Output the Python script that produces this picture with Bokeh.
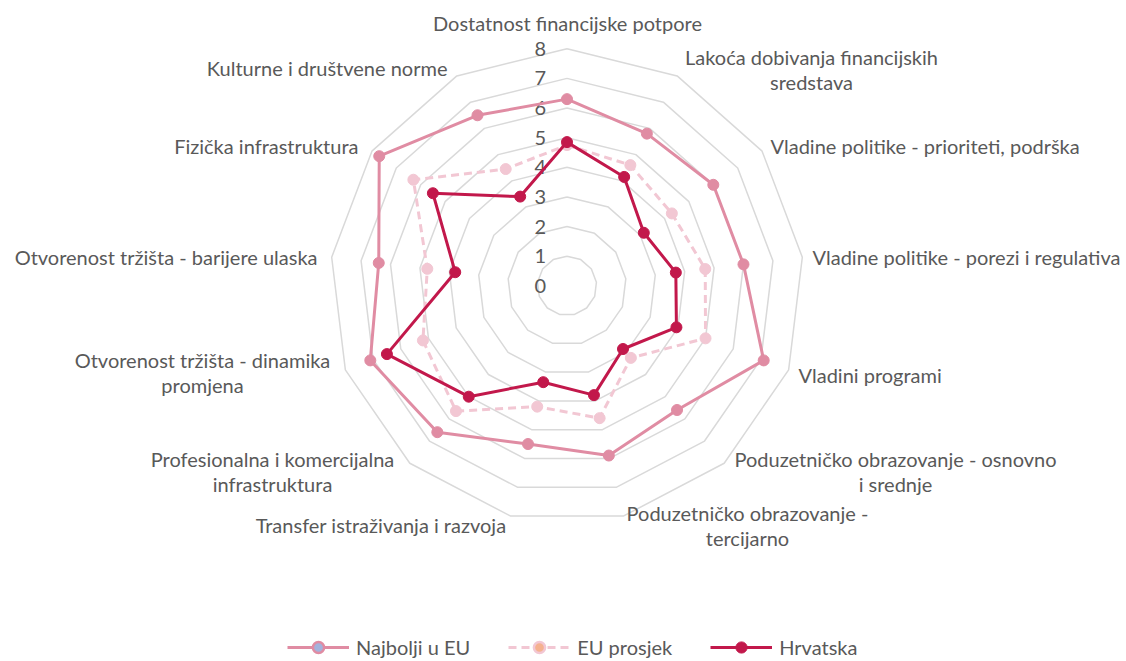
import math
from bokeh.plotting import figure
from bokeh.models import Range1d, ColumnDataSource, Legend, LegendItem
from bokeh.core.properties import value
from bokeh.embed import file_html
from bokeh.resources import INLINE

# ---------------- data ----------------
categories = [
    "Dostatnost financijske potpore",
    "Lakoća dobivanja financijskih sredstava",
    "Vladine politike - prioriteti, podrška",
    "Vladine politike - porezi i regulativa",
    "Vladini programi",
    "Poduzetničko obrazovanje - osnovno i srednje",
    "Poduzetničko obrazovanje - tercijarno",
    "Transfer istraživanja i razvoja",
    "Profesionalna i komercijalna infrastruktura",
    "Otvorenost tržišta - dinamika promjena",
    "Otvorenost tržišta - barijere ulaska",
    "Fizička infrastruktura",
    "Kulturne i društvene norme",
]
najbolji_u_eu = [6.3, 5.8, 6.0, 6.0, 7.1, 5.6, 5.9, 5.5, 6.6, 7.1, 6.4, 7.7, 6.5]
eu_prosjek = [4.75, 4.6, 4.3, 4.7, 5.0, 3.25, 4.6, 4.2, 5.65, 5.2, 4.75, 6.3, 4.45]
hrvatska = [4.85, 4.15, 3.15, 3.7, 3.95, 2.85, 3.8, 3.35, 5.0, 6.5, 3.8, 5.5, 3.4]
radial_ticks = [0, 1, 2, 3, 4, 5, 6, 7, 8]
series_names = ["Najbolji u EU", "EU prosjek", "Hrvatska"]

# ---------------- layout ----------------
W, H = 1124, 658
CX, CY = 566.5, 285.3      # page px of centre
S = 29.63                  # px per unit
PAGE = 0

TEXT = "#595959"
GRID = "#D9D9D9"
FONT = "Lato"
C_BEST = "#E08CA3"
C_EU = "#F2C7D3"
C_HR = "#C2184B"

p = figure(width=W, height=H, output_backend="svg", toolbar_location=None,
           x_range=Range1d((PAGE - CX) / S, (PAGE + W - CX) / S),
           y_range=Range1d((CY - (PAGE + H)) / S, (CY - PAGE) / S),
           min_border=0, min_border_left=0, min_border_right=0,
           min_border_top=0, min_border_bottom=0)
p.axis.visible = False
p.grid.visible = False
p.outline_line_color = None
p.background_fill_color = "white"
p.border_fill_color = "white"

n = len(categories)
angles = [2 * math.pi * k / n for k in range(n)]


def polar(vals):
    xs = [r * math.sin(a) for r, a in zip(vals, angles)]
    ys = [r * math.cos(a) for r, a in zip(vals, angles)]
    return xs, ys


# grid rings
ring_xs, ring_ys = [], []
for t in radial_ticks[1:]:
    xs, ys = polar([t] * n)
    ring_xs.append(xs + xs[:1])
    ring_ys.append(ys + ys[:1])
p.multi_line(ring_xs, ring_ys, line_color=GRID, line_width=1.5)

# radial tick labels
p.text(x=[0] * len(radial_ticks), y=radial_ticks, text=[str(t) for t in radial_ticks],
       x_offset=-21, text_align="right", text_baseline="middle",
       text_font=value(FONT), text_font_size="20px", text_color=TEXT)


def series(vals, color, dash, fill):
    xs, ys = polar(vals)
    ln = p.line(xs + xs[:1], ys + ys[:1], line_color=color, line_width=3,
                line_dash=dash, line_join="round")
    sc = p.scatter(xs, ys, size=11, fill_color=fill, line_color=color, line_width=1)
    return ln, sc


l1, s1 = series(najbolji_u_eu, C_BEST, "solid", C_BEST)
l2, s2 = series(eu_prosjek, C_EU, "8 5", C_EU)
l3, s3 = series(hrvatska, C_HR, "solid", C_HR)

# legend-only markers (as drawn in the reference legend); NaN point -> nothing on plot
nan_src = lambda: ColumnDataSource(dict(x=[float("nan")], y=[float("nan")]))
m1 = p.scatter("x", "y", source=nan_src(), fill_color="#A3B2DC", line_color=C_BEST, line_width=2.5)
m2 = p.scatter("x", "y", source=nan_src(), fill_color="#F5B18F", line_color=C_EU, line_width=2.5)
m3 = p.scatter("x", "y", source=nan_src(), fill_color=C_HR, line_color=C_HR, line_width=1)

# category labels: (lines, page x, page y of first line, align)
label_layout = [
    (["Dostatnost financijske potpore"], 567, 22, "center"),
    (["Lakoća dobivanja financijskih", "sredstava"], 811, 56, "center"),
    (["Vladine politike - prioriteti, podrška"], 770, 145, "left"),
    (["Vladine politike - porezi i regulativa"], 812, 256, "left"),
    (["Vladini programi"], 798, 374, "left"),
    (["Poduzetničko obrazovanje - osnovno", "i srednje"], 895, 458, "center"),
    (["Poduzetničko obrazovanje -", "tercijarno"], 747, 512, "center"),
    (["Transfer istraživanja i razvoja"], 506, 524, "right"),
    (["Profesionalna i komercijalna", "infrastruktura"], 272, 458, "center"),
    (["Otvorenost tržišta - dinamika", "promjena"], 202, 359, "center"),
    (["Otvorenost tržišta - barijere ulaska"], 317, 256, "right"),
    (["Fizička infrastruktura"], 358, 145, "right"),
    (["Kulturne i društvene norme"], 447, 67, "right"),
]
LINE_H = 25.5
for lines, px, py, align in label_layout:
    for i, t in enumerate(lines):
        yy = py + i * LINE_H
        p.text(x=[(px - CX) / S], y=[(CY - yy) / S], text=[t], text_align=align,
               text_baseline="middle", text_font=value(FONT), text_font_size="20px",
               text_color=TEXT)

legend = Legend(items=[
    LegendItem(label=series_names[0], renderers=[l1, m1]),
    LegendItem(label=series_names[1], renderers=[l2, m2]),
    LegendItem(label=series_names[2], renderers=[l3, m3]),
], orientation="horizontal", location=(287, -3), padding=0, margin=0,
    spacing=38, glyph_width=62, glyph_height=28, label_height=20,
    label_standoff=7, label_text_font=FONT, label_text_font_size="20px",
    label_text_color=TEXT, border_line_alpha=0, background_fill_alpha=0)
p.add_layout(legend)

open("out.html", "w").write(file_html(p, INLINE))
